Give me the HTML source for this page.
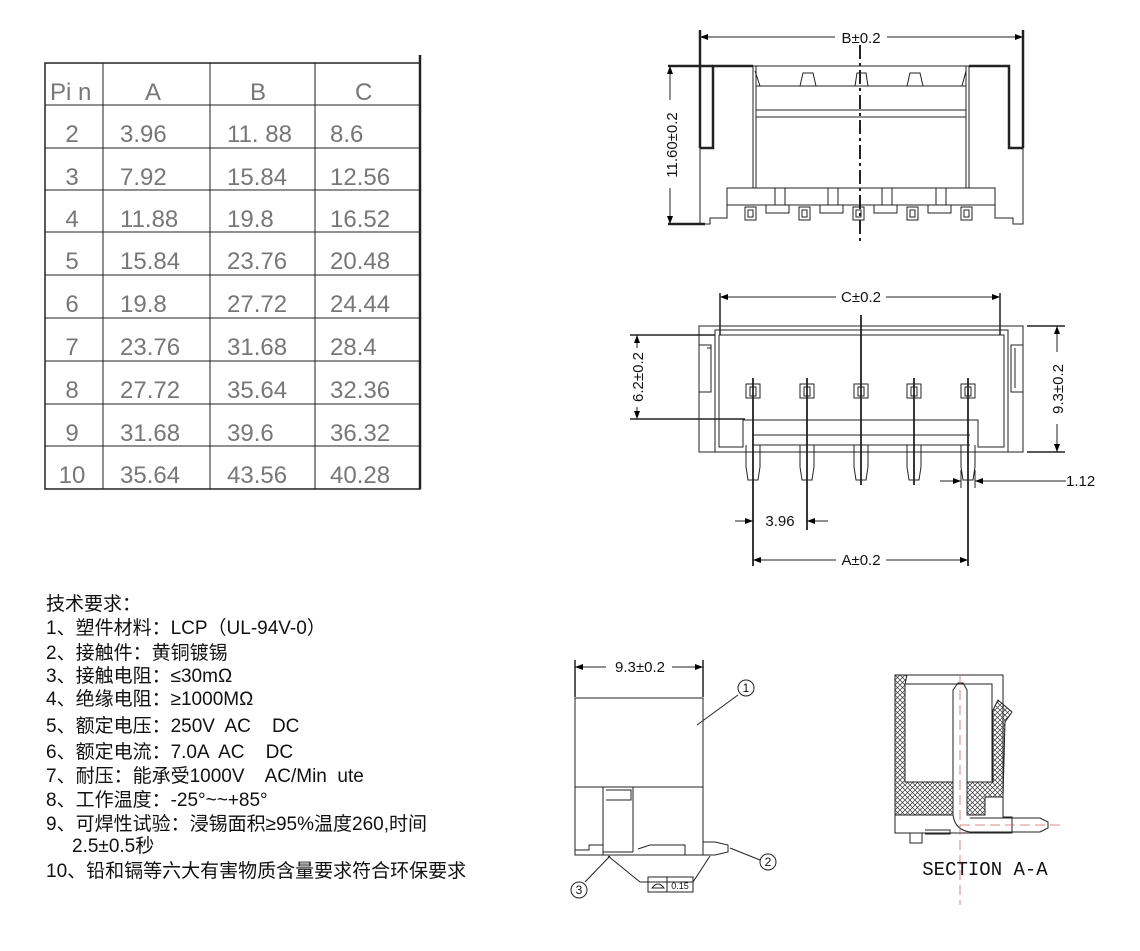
<!DOCTYPE html>
<html><head><meta charset="utf-8"><style>
html,body{margin:0;padding:0;background:#fff;}
svg{display:block;}
text{white-space:pre;}
.t{font-family:"Liberation Sans","Noto Sans CJK SC",sans-serif;}
</style></head><body>
<svg width="1140" height="951" viewBox="0 0 1140 951" xmlns="http://www.w3.org/2000/svg" xml:space="preserve">
<defs>
<pattern id="h" width="5" height="5" patternUnits="userSpaceOnUse">
<path d="M0 0L5 5M5 0L0 5" stroke="#333" stroke-width="0.7"/>
</pattern>
<marker id="a" markerWidth="8" markerHeight="6" refX="8" refY="3" orient="auto-start-reverse"><path d="M0 0L8 3L0 6z" fill="#000"/></marker>
</defs>

<!-- TABLE -->
<g stroke="#222" fill="none">
<rect x="45" y="63" width="375" height="426" stroke-width="1.5"/>
<line x1="420" y1="55" x2="420" y2="489" stroke-width="2.5"/>
<line x1="103" y1="63" x2="103" y2="489"/>
<line x1="210" y1="63" x2="210" y2="489"/>
<line x1="315" y1="63" x2="315" y2="489"/>
<path d="M45 105H420M45 148H420M45 190H420M45 232H420M45 275H420M45 318H420M45 361H420M45 404H420M45 446H420"/>
</g>
<g class="t" font-size="24" fill="#777">
<text x="50" y="100">Pi n</text><text x="145" y="100">A</text><text x="250" y="100">B</text><text x="355" y="100">C</text>
<g text-anchor="middle">
<text x="72" y="142">2</text><text x="72" y="185">3</text><text x="72" y="227">4</text><text x="72" y="269">5</text><text x="72" y="312">6</text><text x="72" y="355">7</text><text x="72" y="398">8</text><text x="72" y="441">9</text><text x="72" y="483">10</text>
</g>
<text x="120" y="142">3.96</text><text x="227" y="142">11. 88</text><text x="330" y="142">8.6</text>
<text x="120" y="185">7.92</text><text x="227" y="185">15.84</text><text x="330" y="185">12.56</text>
<text x="120" y="227">11.88</text><text x="227" y="227">19.8</text><text x="330" y="227">16.52</text>
<text x="120" y="269">15.84</text><text x="227" y="269">23.76</text><text x="330" y="269">20.48</text>
<text x="120" y="312">19.8</text><text x="227" y="312">27.72</text><text x="330" y="312">24.44</text>
<text x="120" y="355">23.76</text><text x="227" y="355">31.68</text><text x="330" y="355">28.4</text>
<text x="120" y="398">27.72</text><text x="227" y="398">35.64</text><text x="330" y="398">32.36</text>
<text x="120" y="441">31.68</text><text x="227" y="441">39.6</text><text x="330" y="441">36.32</text>
<text x="120" y="483">35.64</text><text x="227" y="483">43.56</text><text x="330" y="483">40.28</text>
</g>

<!-- TECH TEXT -->
<g class="t" font-size="19" fill="#111">
<text x="46" y="610">技术要求：</text>
<text x="46" y="634">1、塑件材料：LCP（UL-94V-0）</text>
<text x="46" y="659">2、接触件：黄铜镀锡</text>
<text x="46" y="682">3、接触电阻：≤30mΩ</text>
<text x="46" y="705">4、绝缘电阻：≥1000MΩ</text>
<text x="46" y="732">5、额定电压：250V  AC    DC</text>
<text x="46" y="758">6、额定电流：7.0A  AC    DC</text>
<text x="46" y="782">7、耐压：能承受1000V    AC/Min  ute</text>
<text x="46" y="806">8、工作温度：-25°~~+85°</text>
<text x="46" y="830">9、可焊性试验：浸锡面积≥95%温度260,时间</text>
<text x="72" y="852">2.5±0.5秒</text>
<text x="46" y="877">10、铅和镉等六大有害物质含量要求符合环保要求</text>
</g>

<!-- TOP VIEW -->
<g stroke="#222" fill="none" stroke-width="1">
<line x1="700" y1="37" x2="835" y2="37" marker-start="url(#a)"/>
<line x1="887" y1="37" x2="1023" y2="37" marker-end="url(#a)"/>
<path d="M700 30V148M1023 30V148" stroke-width="2.5"/>
<path d="M700 148H713V66H753M1023 148H1009V66H969" stroke-width="2.5"/>
<path d="M753 66V188M969 66V188M756 66V188M966 66V188"/>
<path d="M753 66H969M756 86H966M756 110H966M756 117H966"/>
<path d="M700 148V224H710V218H727V205H995V218H1013V224H1023V148"/>
<rect x="727" y="188" width="268" height="17"/>
<path d="M775 188V205M785 188V205M828 188V205M838 188V205M882 188V205M892 188V205M936 188V205M946 188V205"/>
<path d="M766 205V213H789V205M820 205V213H843V205M874 205V213H897V205M928 205V213H951V205"/>
<g>
<rect x="745" y="207" width="11" height="13"/><rect x="748" y="210" width="5" height="7"/>
<rect x="799" y="207" width="11" height="13"/><rect x="802" y="210" width="5" height="7"/>
<rect x="853" y="207" width="11" height="13"/><rect x="856" y="210" width="5" height="7"/>
<rect x="907" y="207" width="11" height="13"/><rect x="910" y="210" width="5" height="7"/>
<rect x="961" y="207" width="11" height="13"/><rect x="964" y="210" width="5" height="7"/>
</g>
<path d="M755 71L760 86M800 86L803 73H813L816 86M855 86L857 73H866L868 86M907 86L910 73H920L923 86M966 71L962 86"/>
<line x1="860" y1="45" x2="860" y2="245" stroke-width="2" stroke-dasharray="14 4 3 4"/>
<path d="M668 66H713M668 224H705" stroke-width="2.5"/>
<line x1="670" y1="66" x2="670" y2="100" marker-start="url(#a)"/>
<line x1="670" y1="188" x2="670" y2="224" marker-end="url(#a)"/>
</g>
<text class="t" x="861" y="43" font-size="15" text-anchor="middle" fill="#111">B±0.2</text>
<text class="t" font-size="15" fill="#111" text-anchor="middle" transform="translate(677 145) rotate(-90)">11.60±0.2</text>

<!-- FRONT VIEW -->
<g stroke="#222" fill="none" stroke-width="1">
<line x1="720" y1="297" x2="836" y2="297" marker-start="url(#a)"/>
<line x1="886" y1="297" x2="1000" y2="297" marker-end="url(#a)"/>
<path d="M720 293V335M1000 293V335" stroke-width="1.5"/>
<rect x="699" y="326" width="324" height="126"/>
<path d="M715 452V330H1008V452"/>
<path d="M719 335H1004V447H978V420H743V447H719V335"/>
<path d="M743 420V447M978 420V447M752 435H970M752 445H970"/>
<path d="M699 345H711V392H699M707 348H711V388M1023 345H1011V392H1023M1015 348V388"/>
<g>
<rect x="746" y="384" width="14" height="14"/><rect x="750" y="387" width="6" height="9"/>
<rect x="800" y="384" width="14" height="14"/><rect x="804" y="387" width="6" height="9"/>
<rect x="854" y="384" width="14" height="14"/><rect x="858" y="387" width="6" height="9"/>
<rect x="907" y="384" width="14" height="14"/><rect x="911" y="387" width="6" height="9"/>
<rect x="961" y="384" width="14" height="14"/><rect x="965" y="387" width="6" height="9"/>
</g>
<path d="M746 445V467L748 480H758L760 467V445M800 445V467L802 480H812L814 467V445M854 445V467L856 480H866L868 467V445M907 445V467L909 480H919L921 467V445M961 445V467L963 480H973L975 467V445"/>
<path d="M753 378V566M807 378V530M861 315V485M914 378V485M968 378V566" stroke-width="1.8"/>
<path d="M630 335H715M630 419H745M1027 326H1065M1027 452H1065" stroke-width="1.5"/>
<line x1="637" y1="335" x2="637" y2="348" marker-start="url(#a)"/>
<line x1="637" y1="407" x2="637" y2="419" marker-end="url(#a)"/>
<line x1="1057" y1="326" x2="1057" y2="352" marker-start="url(#a)"/>
<line x1="1057" y1="424" x2="1057" y2="452" marker-end="url(#a)"/>
<path d="M961 470V488M975 470V488"/>
<line x1="940" y1="481" x2="961" y2="481" marker-end="url(#a)"/>
<line x1="1066" y1="481" x2="975" y2="481" marker-end="url(#a)"/>
<line x1="735" y1="521" x2="753" y2="521" marker-end="url(#a)"/>
<line x1="828" y1="521" x2="807" y2="521" marker-end="url(#a)"/>
<line x1="753" y1="560" x2="836" y2="560" marker-start="url(#a)"/>
<line x1="886" y1="560" x2="968" y2="560" marker-end="url(#a)"/>
</g>
<g class="t" font-size="15" fill="#111">
<text x="861" y="302" text-anchor="middle">C±0.2</text>
<text x="1066" y="486">1.12</text>
<text x="780" y="526" text-anchor="middle">3.96</text>
<text x="861" y="565" text-anchor="middle">A±0.2</text>
<text transform="translate(643 377) rotate(-90)" text-anchor="middle">6.2±0.2</text>
<text transform="translate(1063 389) rotate(-90)" text-anchor="middle">9.3±0.2</text>
</g>

<!-- SIDE VIEW -->
<g stroke="#222" fill="none" stroke-width="1">
<path d="M575 660V697M703 660V697" stroke-width="1.5"/>
<line x1="575" y1="667" x2="606" y2="667" marker-start="url(#a)"/>
<line x1="672" y1="667" x2="703" y2="667" marker-end="url(#a)"/>
<path d="M575 698H703V855H575Z"/>
<path d="M575 787H703"/>
<path d="M603 787V852M633 787V852M606 790H631V800H606"/>
<path d="M575 855V850H589V845H603V855M603 852H633M638 849L650 845H685V855"/>
<path d="M703 842H715L728 845V852L715 855H703"/>
<path d="M608 856L640 882H693L710 856"/>
<rect x="648" y="877" width="45" height="15"/>
<path d="M667 877V892M652 888Q658 880 664 888Z"/>
<line x1="697" y1="725" x2="738" y2="695"/>
<line x1="730" y1="848" x2="760" y2="860"/>
<line x1="610" y1="856" x2="585" y2="882"/>
<circle cx="746" cy="688" r="8"/>
<circle cx="768" cy="862" r="8"/>
<circle cx="579" cy="890" r="8"/>
</g>
<g class="t" font-size="12" fill="#111" text-anchor="middle">
<text x="746" y="692">1</text><text x="768" y="866">2</text><text x="579" y="894">3</text>
<text x="680" y="889" font-size="9">0.15</text>
<text x="640" y="672" font-size="15">9.3±0.2</text>
</g>

<!-- SECTION A-A -->
<g stroke="#222" stroke-width="1">
<path d="M895 675H1003V817H1012V833H895Z" fill="none"/>
<path d="M895 675H907L905 684V782H953V815H895Z" fill="url(#h)"/>
<path d="M967 782H993V710L998 700L1012 712L1005 722L1003 797H985V815H967Z" fill="url(#h)"/>
<path d="M905 684H992V782" fill="none"/>
<path d="M953 815V690L958 683H963L967 690V815" fill="none"/>
<path d="M953 815Q955 830 970 832H1040L1048 828V822L1040 818H970" fill="none"/>
<path d="M910 833V843H922V833M925 830H950V834H925" fill="none"/>
</g>
<path d="M960 675V905M960 825H1060" stroke="#c66" stroke-width="0.8" stroke-dasharray="10 5" fill="none"/>
<text x="985" y="875" text-anchor="middle" font-family="Liberation Mono, monospace" font-size="19" fill="#111">SECTION A-A</text>
</svg>
</body></html>
